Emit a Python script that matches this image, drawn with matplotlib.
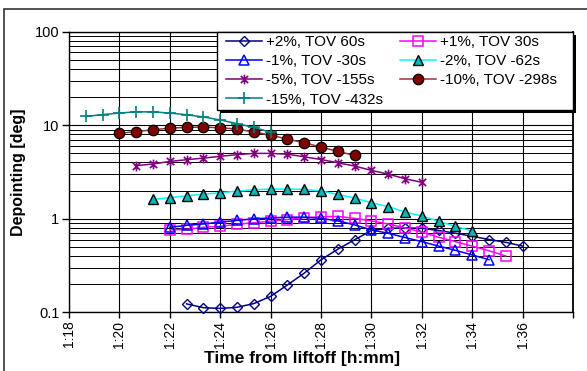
import matplotlib
matplotlib.use("Agg")
import matplotlib.pyplot as plt
from matplotlib.patches import Rectangle
from matplotlib.path import Path
from matplotlib.ticker import FixedLocator, FixedFormatter, NullFormatter

plt.rcParams['font.family'] = ['Liberation Sans', 'DejaVu Sans']

# ---------------- data ----------------
t_p2 = ["1:22:40", "1:23:20", "1:24:00", "1:24:40", "1:25:20", "1:26:00", "1:26:40",
        "1:27:20", "1:28:00", "1:28:40", "1:29:20", "1:30:00", "1:30:40", "1:31:20",
        "1:32:00", "1:32:40", "1:33:20", "1:34:00", "1:34:40", "1:35:20", "1:36:00"]
v_p2 = [0.123, 0.112, 0.110, 0.113, 0.124, 0.148, 0.196, 0.262, 0.364, 0.473, 0.596,
        0.75, 0.79, 0.80, 0.79, 0.75, 0.70, 0.65, 0.60, 0.56, 0.51]

t_p1 = ["1:22:00", "1:22:40", "1:23:20", "1:24:00", "1:24:40", "1:25:20", "1:26:00",
        "1:26:40", "1:27:20", "1:28:00", "1:28:40", "1:29:20", "1:30:00", "1:30:40",
        "1:31:20", "1:32:00", "1:32:40", "1:33:20", "1:34:00", "1:34:40", "1:35:20"]
v_p1 = [0.76, 0.77, 0.81, 0.83, 0.875, 0.905, 0.94, 0.98, 1.03, 1.05, 1.06, 1.01,
        0.95, 0.88, 0.80, 0.72, 0.635, 0.57, 0.51, 0.455, 0.40]

t_m1 = ["1:22:00", "1:22:40", "1:23:20", "1:24:00", "1:24:40", "1:25:20", "1:26:00",
        "1:26:40", "1:27:20", "1:28:00", "1:28:40", "1:29:20", "1:30:00", "1:30:40",
        "1:31:20", "1:32:00", "1:32:40", "1:33:20", "1:34:00", "1:34:40"]
v_m1 = [0.81, 0.85, 0.88, 0.92, 0.96, 1.0, 1.02, 1.04, 1.04, 1.01, 0.95, 0.86,
        0.76, 0.70, 0.63, 0.57, 0.51, 0.46, 0.41, 0.365]

t_m2 = ["1:21:20", "1:22:00", "1:22:40", "1:23:20", "1:24:00", "1:24:40", "1:25:20",
        "1:26:00", "1:26:40", "1:27:20", "1:28:00", "1:28:40", "1:29:20", "1:30:00",
        "1:30:40", "1:31:20", "1:32:00", "1:32:40", "1:33:20", "1:34:00"]
v_m2 = [1.61, 1.68, 1.76, 1.83, 1.90, 1.97, 2.04, 2.08, 2.08, 2.06, 1.98, 1.82,
        1.67, 1.48, 1.35, 1.18, 1.07, 0.94, 0.83, 0.74]

t_m5 = ["1:20:40", "1:21:20", "1:22:00", "1:22:40", "1:23:20", "1:24:00", "1:24:40",
        "1:25:20", "1:26:00", "1:26:40", "1:27:20", "1:28:00", "1:28:40", "1:29:20",
        "1:30:00", "1:30:40", "1:31:20", "1:32:00"]
v_m5 = [3.7, 3.85, 4.1, 4.28, 4.45, 4.65, 4.85, 5.0, 5.0, 4.9, 4.6, 4.3, 3.97, 3.66,
        3.29, 3.0, 2.68, 2.45]

t_m10 = ["1:20:00", "1:20:40", "1:21:20", "1:22:00", "1:22:40", "1:23:20", "1:24:00",
         "1:24:40", "1:25:20", "1:26:00", "1:26:40", "1:27:20", "1:28:00", "1:28:40",
         "1:29:20"]
v_m10 = [8.2, 8.55, 8.95, 9.3, 9.5, 9.55, 9.4, 9.1, 8.46, 7.85, 7.1, 6.5, 5.84, 5.25, 4.76]

t_m15 = ["1:18:40", "1:19:20", "1:20:00", "1:20:40", "1:21:20", "1:22:00", "1:22:40",
         "1:23:20", "1:24:00", "1:24:40", "1:25:20", "1:26:00"]
v_m15 = [12.4, 13.0, 13.5, 13.9, 13.9, 13.5, 12.95, 12.25, 11.4, 10.4, 9.5, 8.4]

labels = ["+2%, TOV 60s", "+1%, TOV 30s", "-1%, TOV -30s", "-2%, TOV -62s",
          "-5%, TOV -155s", "-10%, TOV -298s", "-15%, TOV -432s"]

x_tick_labels = ["1:18", "1:20", "1:22", "1:24", "1:26", "1:28", "1:30", "1:32",
                 "1:34", "1:36", ""]
y_tick_values = [0.1, 1, 10, 100]
y_tick_labels = ["0.1", "1", "10", "100"]


def to_min(s):
    h, m, *rest = s.split(":")
    sec = int(rest[0]) if rest else 0
    return int(h) * 60 + int(m) + sec / 60.0


# custom Excel-like star marker (x plus vertical bar)
star = Path([(0, -1), (0, 1), (-0.75, -0.75), (0.75, 0.75), (-0.75, 0.75), (0.75, -0.75)],
            [Path.MOVETO, Path.LINETO, Path.MOVETO, Path.LINETO, Path.MOVETO, Path.LINETO])

W, H = 587, 371
fig = plt.figure(figsize=(W / 100, H / 100), dpi=100)
fig.patch.set_facecolor("white")
ax = fig.add_axes([69 / W, 1 - 312.3 / H, (573 - 69) / W, (312.3 - 31.7) / H])

lw = 1.1
series = [
    (t_p2, v_p2, dict(color="#000080", marker="D", ms=5, mfc="none", mec="#000080", mew=1.0)),
    (t_p1, v_p1, dict(color="#FF00FF", marker="s", ms=6.5, mfc="none", mec="#FF00FF", mew=1.1)),
    (t_m1, v_m1, dict(color="#0000FF", marker="^", ms=7, mfc="none", mec="#0000FF", mew=1.1)),
    (t_m2, v_m2, dict(color="#00FFFF", marker="^", ms=7, mfc="#00B8B8", mec="black", mew=1.0)),
    (t_m5, v_m5, dict(color="#800080", marker=star, ms=7, mfc="none", mec="#800080", mew=1.2)),
    (t_m10, v_m10, dict(color="#A03030", marker="o", ms=7.5, mfc="#800000", mec="black", mew=0.9)),
    (t_m15, v_m15, dict(color="#008080", marker="+", ms=8, mec="#008080", mew=1.2)),
]

handles = []
for (ts, vs, st), lab in zip(series, labels):
    xs = [to_min(s) for s in ts]
    h, = ax.plot(xs, vs, lw=lw, label=lab, clip_on=False, zorder=3, **st)
    handles.append(h)

ax.set_yscale("log")
ax.set_ylim(0.1, 100)
ax.set_xlim(78, 98)

ax.xaxis.set_major_locator(FixedLocator(list(range(78, 99, 2))))
ax.xaxis.set_major_formatter(FixedFormatter(x_tick_labels))
ax.yaxis.set_major_locator(FixedLocator(y_tick_values))
ax.yaxis.set_major_formatter(FixedFormatter(y_tick_labels))
minor = [m * 10.0 ** e for e in (-1, 0, 1) for m in range(2, 10)]
ax.yaxis.set_minor_locator(FixedLocator(minor))
ax.yaxis.set_minor_formatter(NullFormatter())
ax.xaxis.set_minor_locator(FixedLocator([]))

ax.tick_params(axis="x", which="major", length=4, width=1, direction="out",
               labelsize=10, labelrotation=90, pad=2, colors="black")
ax.tick_params(axis="y", which="major", length=5, width=1, direction="out",
               labelsize=10.5, pad=2)
ax.tick_params(axis="y", which="minor", length=0)

ax.grid(True, which="major", axis="both", color="black", lw=0.8)
ax.grid(True, which="minor", axis="y", color="black", lw=0.7)
ax.set_axisbelow(True)

for sp in ax.spines.values():
    sp.set_color("black")
    sp.set_linewidth(1.0)
ax.spines["right"].set_linewidth(1.3)

ax.set_xlabel("Time from liftoff [h:mm]", fontsize=12.5, fontweight="bold")
ax.xaxis.set_label_coords(0.462, -0.166)
ax.xaxis.label.set_va("center")
ax.set_ylabel("Depointing [deg]", fontsize=11.5, fontweight="bold")
ax.yaxis.set_label_coords(-0.101, 0.5)
ax.yaxis.label.set_va("center")

# legend frame + shadow (pixel box of the reference legend)
lx0, lx1, ly0, ly1 = 217, 573, 32, 110
sh = 3
ax.add_patch(Rectangle(((lx0 + sh) / W, 1 - (ly1 + sh) / H), (lx1 - lx0) / W, (ly1 - ly0) / H,
                       transform=fig.transFigure, facecolor="black", edgecolor="black",
                       lw=0, clip_on=False, zorder=8))
ax.add_patch(Rectangle((lx0 / W, 1 - ly1 / H), (lx1 - lx0) / W, (ly1 - ly0) / H,
                       transform=fig.transFigure, facecolor="white", edgecolor="black",
                       lw=1.0, clip_on=False, zorder=9))

order = [0, 2, 4, 6, 1, 3, 5]
leg = ax.legend([handles[i] for i in order], [labels[i] for i in order],
                ncol=2, loc="upper left", bbox_to_anchor=((lx0 + 9) / W, 1 - (ly0 + 3) / H),
                bbox_transform=fig.transFigure,
                borderaxespad=0, fontsize=11, frameon=False,
                handlelength=2.35, handletextpad=0.25, columnspacing=1.15,
                labelspacing=0.34, borderpad=0.0)
leg.set_zorder(10)

# chart-area border
fig.patches.append(Rectangle((4 / W, -0.1), 2, 1.1 - 8.5 / H, transform=fig.transFigure,
                             fill=False, edgecolor="#333333", lw=1.2))

fig.savefig("out.png", dpi=100)
